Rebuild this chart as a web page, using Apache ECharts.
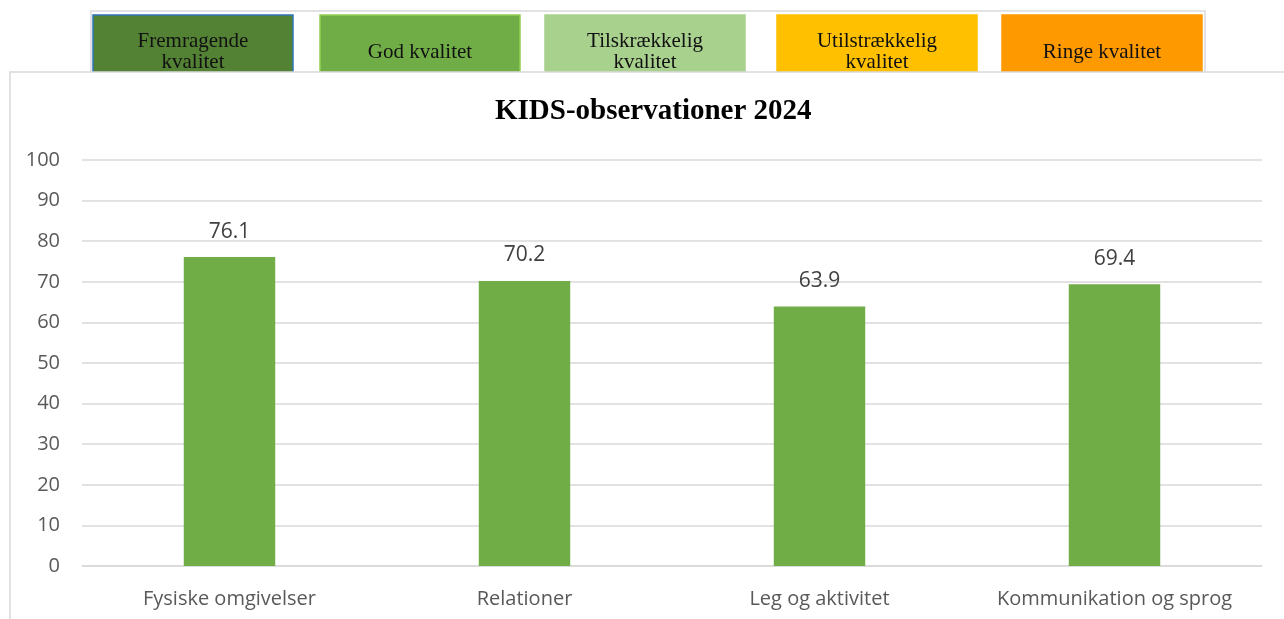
<!DOCTYPE html>
<html>
<head>
<meta charset="utf-8">
<script src="https://cdn.jsdelivr.net/npm/echarts@6/dist/echarts.min.js"></script>
<style>
  html, body { margin: 0; padding: 0; background: #fff; }
  #chart { width: 1284px; height: 619px; }
</style>
</head>
<body>
<div id="chart"></div>
<script>
// kategorier og værdier
const categories = ["Fysiske omgivelser", "Relationer", "Leg og aktivitet", "Kommunikation og sprog"];
const values = [76.1, 70.2, 63.9, 69.4];
// kvalitetsniveauer i toppen
const levelLabels = ["Fremragende\nkvalitet", "God kvalitet", "Tilskrækkelig\nkvalitet", "Utilstrækkelig\nkvalitet", "Ringe kvalitet"];
const levelColors = ["#548235", "#70AD47", "#A9D18E", "#FFC000", "#FF9900"];
const levelBorders = ["#2E75B6", "#92D050", "#A9D18E", "#FFC000", "#FF9900"];

const boxX = [93, 320, 545, 777, 1002];
const boxW = 200;

const chart = echarts.init(document.getElementById("chart"));

const graphics = [];
// ramme omkring niveau-boksene
graphics.push({
  type: "rect", z: 1,
  shape: { x: 91, y: 11, width: 1114, height: 62 },
  style: { fill: "#fff", stroke: "#e3e3e3", lineWidth: 2 }
});
levelLabels.forEach((txt, i) => {
  graphics.push({
    type: "rect", z: 2,
    shape: { x: boxX[i], y: 15, width: boxW, height: 58 },
    style: { fill: levelColors[i], stroke: levelBorders[i], lineWidth: 1.5 }
  });
  graphics.push({
    type: "text", z: 2,
    x: boxX[i] + boxW / 2, y: 52,
    style: {
      text: txt, fill: "#111", font: "21px 'Liberation Serif'",
      align: "center", verticalAlign: "middle", lineHeight: 21
    }
  });
});
// hvid diagramflade med ramme
graphics.push({
  type: "rect", z: 3,
  shape: { x: 10, y: 72, width: 1290, height: 560 },
  style: { fill: "#fff", stroke: "#d9d9d9", lineWidth: 1.5 }
});

const option = {
  backgroundColor: "#fff",
  animation: false,
  graphic: graphics,
  title: {
    text: "KIDS-observationer 2024",
    left: 490, top: 92, z: 10,
    textStyle: { fontFamily: "Liberation Serif", fontWeight: "bold", fontSize: 29, color: "#000" }
  },
  grid: { left: 82, right: 22, top: 160, bottom: 53, z: 10 },
  xAxis: {
    type: "category", data: categories, z: 10,
    axisLine: { show: true, lineStyle: { color: "#d9d9d9", width: 1.5 } },
    axisTick: { show: false },
    axisLabel: { color: "#595959", fontSize: 20, fontFamily: "Open Sans", margin: 23, interval: 0, hideOverlap: false }
  },
  yAxis: {
    type: "value", min: 0, max: 100, interval: 10, z: 10,
    axisLine: { show: false }, axisTick: { show: false },
    splitLine: { lineStyle: { color: "#d9d9d9", width: 1.5 } },
    axisLabel: { color: "#595959", fontSize: 20, fontFamily: "Open Sans", margin: 22 }
  },
  series: [{
    type: "bar", data: values, z: 10,
    barWidth: "31%",
    itemStyle: { color: "#70AD47" },
    label: {
      show: true, position: "top", distance: 15,
      color: "#404040", fontSize: 21, fontFamily: "Open Sans",
      formatter: p => p.value.toFixed(1)
    }
  }]
};
chart.setOption(option);
</script>
</body>
</html>
